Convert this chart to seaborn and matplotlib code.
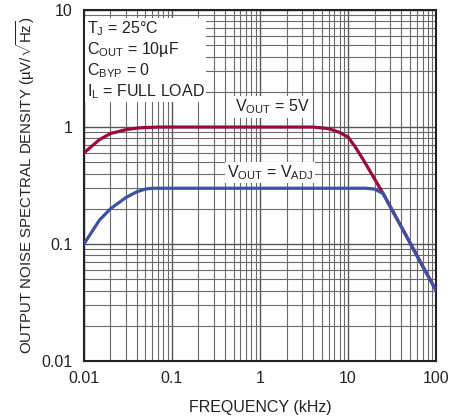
import matplotlib
matplotlib.use('Agg')
import matplotlib.pyplot as plt
import seaborn as sns
import pandas as pd

# Dados (frequência em kHz, densidade em µV/√Hz)
freq_5v = [0.01, 0.015, 0.02, 0.03, 0.04, 0.05, 0.07, 0.1, 1, 4, 6, 8, 10, 12, 15, 20, 25, 30, 50, 70, 100]
ruido_5v = [0.6, 0.78, 0.88, 0.95, 0.98, 0.99, 1.0, 1.0, 1.0, 1.0, 0.97, 0.9, 0.82, 0.68, 0.52, 0.36, 0.27, 0.21, 0.104, 0.065, 0.04]

freq_adj = [0.01, 0.015, 0.02, 0.03, 0.04, 0.05, 0.06, 0.08, 0.1, 1, 10, 16, 20, 25, 30, 50, 70, 100]
ruido_adj = [0.1, 0.16, 0.2, 0.25, 0.28, 0.295, 0.3, 0.3, 0.3, 0.3, 0.3, 0.3, 0.295, 0.27, 0.21, 0.104, 0.065, 0.04]

df = pd.concat([
    pd.DataFrame({'freq': freq_5v, 'ruido': ruido_5v, 'serie': '5V'}),
    pd.DataFrame({'freq': freq_adj, 'ruido': ruido_adj, 'serie': 'ADJ'}),
])

sns.set_style('white')
plt.rcParams['font.family'] = ['Liberation Sans', 'DejaVu Sans']
plt.rcParams['mathtext.fontset'] = 'custom'
plt.rcParams['mathtext.rm'] = 'Liberation Sans'

fig = plt.figure(figsize=(4.66, 4.17), dpi=100)
ax = fig.add_axes([0.180, 0.134, 0.756, 0.842])

sns.lineplot(data=df, x='freq', y='ruido', hue='serie', palette={'5V': '#9c0a35', 'ADJ': '#3a53a4'},
             linewidth=2.3, legend=False, ax=ax, sort=False, zorder=4)

ax.set_xscale('log')
ax.set_yscale('log')
ax.set_xlim(0.01, 100)
ax.set_ylim(0.01, 10)

# Grade principal e secundária
ax.grid(which='major', color='#555555', linewidth=1.0, zorder=0)
ax.grid(which='minor', color='#6a6a6a', linewidth=0.8, zorder=0)
ax.set_axisbelow(True)
for s in ax.spines.values():
    s.set_color('#222222')
    s.set_linewidth(1.5)

ax.set_xticks([0.01, 0.1, 1, 10, 100])
ax.set_xticklabels(['0.01', '0.1', '1', '10', '100'])
ax.set_yticks([0.01, 0.1, 1, 10])
ax.set_yticklabels(['0.01', '0.1', '1', '10'])
ax.tick_params(which='both', length=0, labelsize=11.5, colors='#222222')
ax.tick_params(axis='x', pad=7)
ax.tick_params(axis='y', pad=8)

ax.set_xlabel('FREQUENCY (kHz)', fontsize=11.5, color='#222222', labelpad=10)
ax.set_ylabel(r'OUTPUT NOISE SPECTRAL DENSITY (µV/$\sqrt{\mathregular{Hz}}$)', fontsize=10.8,
              color='#222222', labelpad=3)

# Anotações
caixa = dict(facecolor='white', edgecolor='none', pad=1)
ax.text(0.0108, 8.3, 'T$_\\mathregular{J}$ = 25°C\nC$_\\mathregular{OUT}$ = 10µF\nC$_\\mathregular{BYP}$ = 0\nI$_\\mathregular{L}$ = FULL LOAD',
        fontsize=11.5, color='#222222', va='top', ha='left', linespacing=1.15, bbox=caixa, zorder=5)
ax.text(1.37, 1.48, 'V$_\\mathregular{OUT}$ = 5V', fontsize=11.5, color='#222222', ha='center', va='center',
        bbox=caixa, zorder=5)
ax.text(1.3, 0.41, 'V$_\\mathregular{OUT}$ = V$_\\mathregular{ADJ}$', fontsize=11.5, color='#222222', ha='center', va='center',
        bbox=caixa, zorder=5)

fig.savefig('out.png', dpi=100)
